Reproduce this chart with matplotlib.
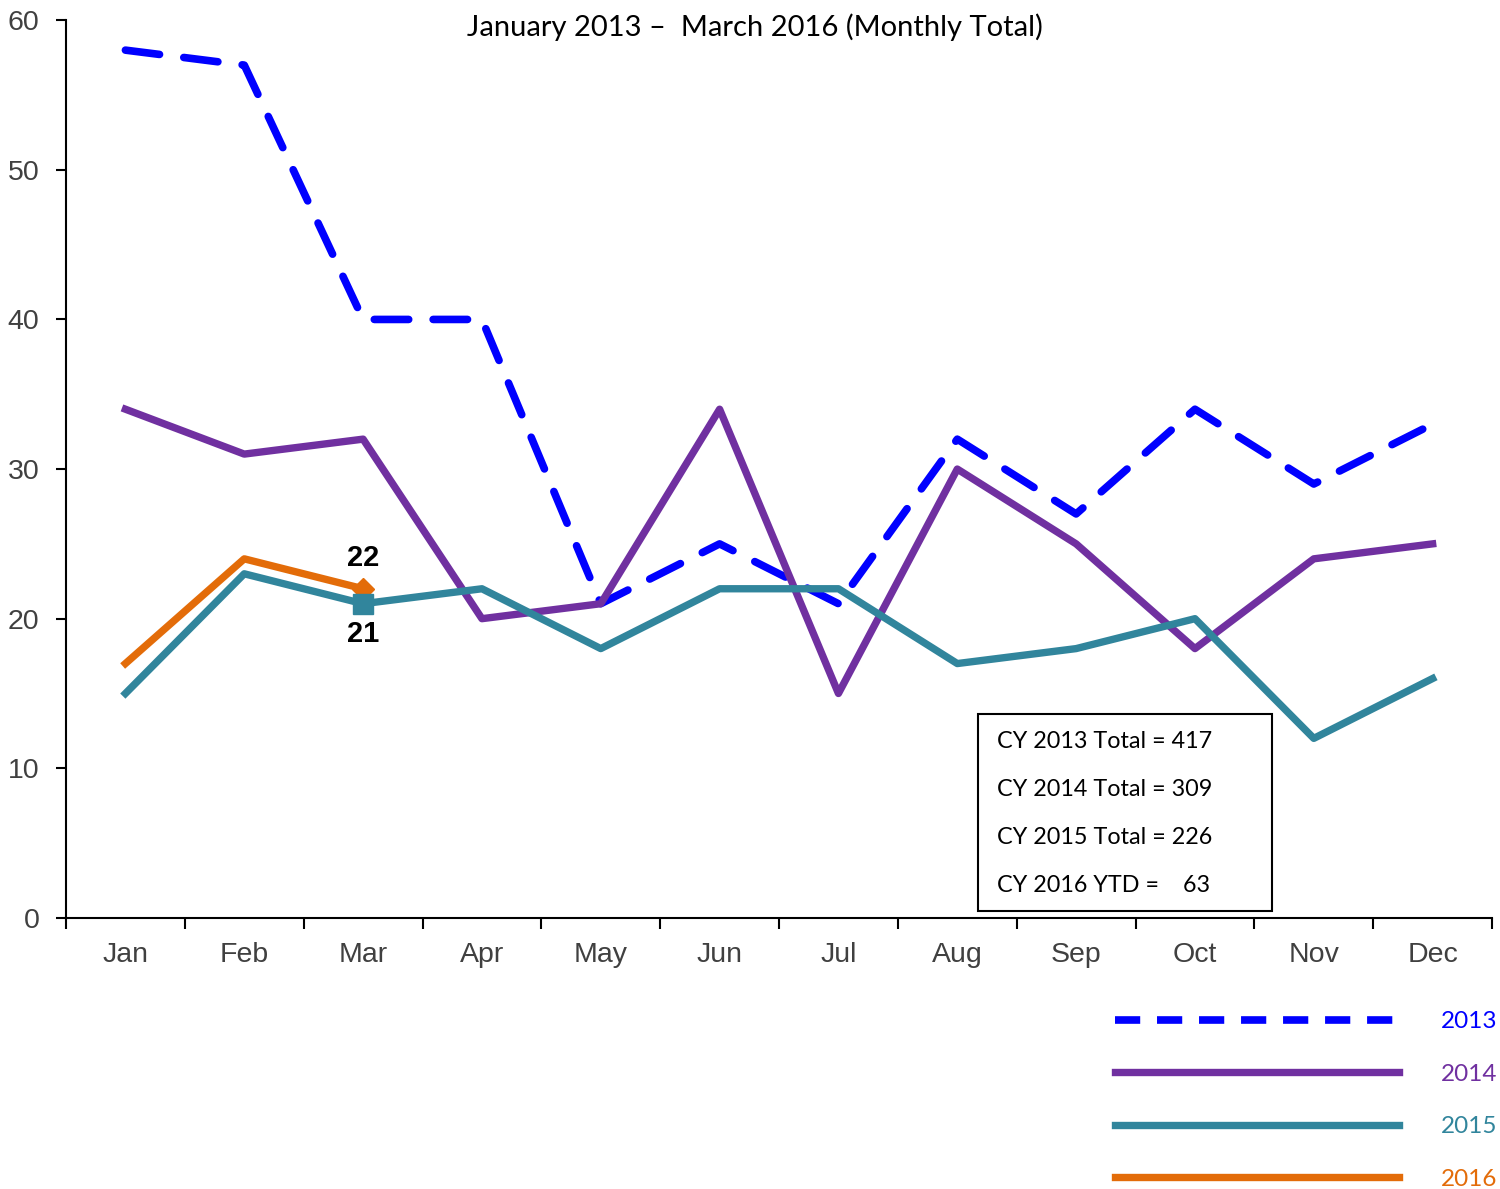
import matplotlib.pyplot as plt
from matplotlib.patches import Rectangle
from matplotlib.lines import Line2D

months = ['Jan', 'Feb', 'Mar', 'Apr', 'May', 'Jun', 'Jul', 'Aug', 'Sep', 'Oct', 'Nov', 'Dec']
y2013 = [58, 57, 40, 40, 21, 25, 21, 32, 27, 34, 29, 33]
y2014 = [34, 31, 32, 20, 21, 34, 15, 30, 25, 18, 24, 25]
y2015 = [15, 23, 21, 22, 18, 22, 22, 17, 18, 20, 12, 16]
y2016 = [17, 24, 22]
years = ['2013', '2014', '2015', '2016']
box_lines = ['CY 2013 Total = 417', 'CY 2014 Total = 309', 'CY 2015 Total = 226', 'CY 2016 YTD =    63']

c2013 = '#0000FF'
c2014 = '#7030A0'
c2015 = '#31859C'
c2016 = '#E36C09'

plt.rcParams['font.family'] = ['Liberation Sans', 'DejaVu Sans']

fig = plt.figure(figsize=(15, 11.89), dpi=100)
ax = fig.add_axes([0.044, 0.228, 0.9507, 0.755])

x = list(range(len(months)))
ax.plot(x, y2013, color=c2013, lw=5.5, dashes=(4.5, 3.2), dash_capstyle='round')
ax.plot(x, y2014, color=c2014, lw=5.3)
ax.plot(x, y2015, color=c2015, lw=5.3)
ax.plot(x[:len(y2016)], y2016, color=c2016, lw=5.3)

# end-point markers on the two latest series
ax.plot(x[2], y2016[2], marker='D', ms=11, color=c2016, zorder=5)
ax.plot(x[2], y2015[2], marker='s', ms=14, color=c2015, zorder=6)
ax.text(x[2], y2016[2] + 1.1, str(y2016[2]), ha='center', va='bottom', fontsize=21, fontweight='bold')
ax.text(x[2], y2015[2] - 1.1, str(y2015[2]), ha='center', va='top', fontsize=21, fontweight='bold')

ax.set_xlim(-0.5, 11.5)
ax.set_ylim(0, 60)
ax.set_yticks(range(0, 61, 10))
ax.set_xticks(x)
ax.set_xticklabels(months)
ax.set_xticks([i - 0.5 for i in range(13)], minor=True)
ax.tick_params(axis='x', which='major', length=0, pad=17, labelsize=20.5, labelcolor='#404040')
ax.tick_params(axis='x', which='minor', length=8, width=1.5, direction='out')
ax.tick_params(axis='y', length=7, width=1.5, pad=12, labelsize=20.5, labelcolor='#404040')

ax.spines['top'].set_visible(False)
ax.spines['right'].set_visible(False)
for s in ['left', 'bottom']:
    ax.spines[s].set_linewidth(1.5)

fig.text(0.503, 0.977, 'January 2013 \u2013  March 2016 (Monthly Total)', ha='center', va='center',
         fontsize=21, family=['Lato', 'DejaVu Sans'])

# totals box
fig.patches.append(Rectangle((978 / 1500, 1 - 911 / 1189), 294 / 1500, 197 / 1189,
                             transform=fig.transFigure, fill=False, lw=1.5, ec='black'))
for i, line in enumerate(box_lines):
    fig.text(997 / 1500, 1 - (741 + 48 * i) / 1189, line, ha='left', va='center',
             fontsize=16.8, family=['Lato', 'DejaVu Sans'])

handles = [Line2D([], [], color=c2013, lw=5.5, dashes=(3.3, 2.2)),
           Line2D([], [], color=c2014, lw=5.3),
           Line2D([], [], color=c2015, lw=5.3),
           Line2D([], [], color=c2016, lw=5.3)]
leg = ax.legend(handles, years, loc='upper right', bbox_to_anchor=(1.019, -0.0795), frameon=False,
                handlelength=11.7, labelspacing=1.3, handletextpad=1.7, labelcolor='linecolor',
                prop={'family': ['Lato', 'DejaVu Sans'], 'size': 17.5})

fig.savefig('out.png', dpi=100)
